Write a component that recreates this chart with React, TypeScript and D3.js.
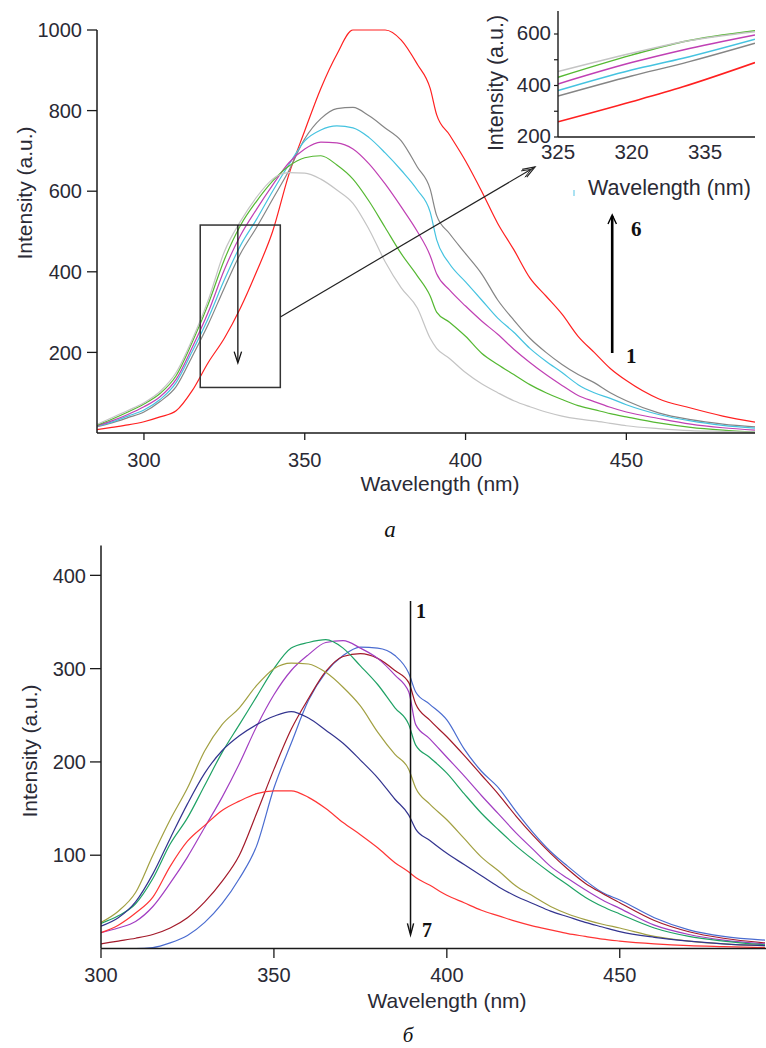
import React from "react";
import * as d3 from "d3";

// ---------- Panel a (top) ----------
const topWavelengths = [285, 290, 295, 300, 305, 310, 315, 320, 325, 330, 335, 340, 345, 350, 355, 360, 365, 370, 375, 380, 385, 389, 391, 395, 400, 405, 410, 415, 420, 425, 430, 435, 440, 445, 450, 460, 470, 480, 490];
const topRed = [8, 14, 20, 28, 40, 55, 105, 175, 235, 310, 400, 500, 640, 750, 855, 940, 1000, 1000, 1000, 975, 915, 855, 790, 740, 675, 600, 520, 455, 385, 340, 295, 240, 200, 160, 130, 85, 62, 42, 27];
const topGray = [15, 25, 38, 52, 78, 115, 190, 270, 360, 445, 510, 580, 650, 730, 780, 805, 808, 787, 757, 725, 660, 605, 540, 495, 445, 395, 330, 280, 235, 200, 170, 145, 125, 100, 80, 50, 33, 22, 15];
const topCyan = [16, 27, 42, 57, 83, 125, 202, 285, 380, 465, 530, 600, 665, 725, 752, 762, 757, 733, 695, 652, 603, 548, 480, 420, 375, 330, 285, 250, 210, 178, 150, 120, 100, 86, 70, 46, 30, 19, 12];
const topMagenta = [17, 30, 46, 65, 90, 133, 212, 300, 405, 490, 555, 615, 670, 705, 722, 720, 705, 668, 618, 561, 500, 440, 395, 355, 315, 278, 245, 208, 175, 145, 118, 93, 78, 64, 52, 36, 22, 13, 7];
const topGreen = [18, 34, 52, 72, 98, 142, 225, 320, 430, 515, 575, 625, 662, 683, 688, 665, 630, 575, 510, 445, 390, 340, 300, 275, 240, 198, 170, 145, 120, 100, 83, 68, 58, 48, 40, 25, 14, 7, 2];
const topLightGray = [20, 38, 56, 75, 103, 150, 232, 330, 450, 525, 585, 630, 646, 645, 630, 603, 570, 505, 425, 360, 310, 235, 210, 185, 150, 122, 100, 80, 65, 52, 42, 35, 30, 24, 18, 11, 6, 4, 2];
const topSeries = [
  { name: "1", values: topRed, color: "#ff2020" },
  { name: "2", values: topGray, color: "#858585" },
  { name: "3", values: topCyan, color: "#45c3e0" },
  { name: "4", values: topMagenta, color: "#c040b4" },
  { name: "5", values: topGreen, color: "#55b832" },
  { name: "6", values: topLightGray, color: "#c4c4c4" },
];
const topXTicks = [300, 350, 400, 450];
const topYTicks = [200, 400, 600, 800, 1000];

// ---------- Inset ----------
const insetWavelengths = [325, 330, 333.5, 338.4];
const insetRed = [259, 337, 395, 489];
const insetGray = [359, 437, 486, 564];
const insetCyan = [380, 460, 506, 580];
const insetMagenta = [406, 489, 538, 596];
const insetGreen = [432, 518, 570, 613];
const insetLightGray = [454, 525, 570, 609];
const insetSeries = [
  { values: insetRed, color: "#ff2020" },
  { values: insetGray, color: "#858585" },
  { values: insetCyan, color: "#45c3e0" },
  { values: insetMagenta, color: "#c040b4" },
  { values: insetGreen, color: "#55b832" },
  { values: insetLightGray, color: "#c4c4c4" },
];
const insetXTicks = [325, 330, 335];
const insetXTickLabels = ["325", "320", "335"];
const insetYTicks = [200, 300, 400, 500, 600];
const insetYLabels = [200, 400, 600];

// ---------- Panel б (bottom) ----------
const botWavelengths = [300, 305, 310, 315, 320, 325, 330, 335, 340, 345, 350, 355, 360, 365, 370, 375, 380, 385, 389, 391, 395, 400, 405, 410, 415, 420, 425, 430, 435, 440, 445, 450, 460, 470, 480, 492];
const botBlue = [0, 0, 0, 1, 6, 14, 28, 48, 75, 110, 172, 220, 266, 296, 314, 323, 322, 314, 295, 275, 262, 245, 214, 190, 172, 147, 124, 104, 88, 73, 60, 52, 33, 20, 13, 9];
const botDarkRed = [5, 8, 11, 15, 22, 33, 50, 72, 100, 145, 192, 235, 268, 297, 313, 316, 311, 298, 285, 262, 245, 227, 207, 186, 165, 142, 121, 102, 85, 70, 59, 49, 30, 18, 11, 6];
const botMagenta = [17, 22, 29, 45, 70, 98, 130, 162, 198, 238, 272, 298, 315, 328, 330, 322, 311, 293, 275, 240, 225, 205, 185, 164, 144, 124, 106, 88, 75, 63, 52, 43, 25, 15, 9, 5];
const botGreen = [27, 35, 48, 75, 112, 140, 175, 210, 240, 270, 300, 322, 328, 331, 322, 303, 283, 258, 240, 218, 205, 188, 166, 145, 127, 110, 95, 81, 68, 55, 45, 37, 22, 13, 8, 4];
const botOlive = [28, 40, 60, 100, 138, 172, 212, 240, 258, 282, 300, 306, 305, 296, 280, 260, 232, 208, 192, 172, 155, 138, 118, 98, 83, 67, 56, 45, 37, 31, 26, 22, 13, 8, 5, 3];
const botNavy = [24, 33, 50, 80, 118, 155, 188, 212, 228, 240, 249, 254, 247, 234, 220, 202, 183, 160, 143, 128, 116, 102, 90, 78, 66, 56, 48, 40, 34, 28, 23, 18, 12, 8, 5, 3];
const botRed = [17, 25, 38, 55, 88, 115, 132, 148, 158, 166, 169, 169, 162, 150, 135, 122, 108, 92, 82, 76, 68, 57, 49, 41, 35, 29, 24, 20, 16, 13, 10, 8, 5, 3, 2, 1];
const botSeries = [
  { name: "1", values: botBlue, color: "#4a6cd0" },
  { name: "2", values: botDarkRed, color: "#a31a2a" },
  { name: "3", values: botMagenta, color: "#a23ec2" },
  { name: "4", values: botGreen, color: "#1fa265" },
  { name: "5", values: botOlive, color: "#a2a042" },
  { name: "6", values: botNavy, color: "#33348f" },
  { name: "7", values: botRed, color: "#ff3535" },
];
const botXTicks = [300, 350, 400, 450];
const botYTicks = [100, 200, 300, 400];

const SANS = "'Liberation Sans', Arial, sans-serif";
const SERIF = "'Liberation Serif', 'Times New Roman', serif";
const AX = "#1a1a1a";
const TXT = "#2a2a35";

function Arrowhead({ x, y, angle, len = 11, spread = 22, stroke = "#111", sw = 1.3 }) {
  const a1 = ((angle + 180 - spread) * Math.PI) / 180;
  const a2 = ((angle + 180 + spread) * Math.PI) / 180;
  const p1 = [x + len * Math.cos(a1), y + len * Math.sin(a1)];
  const p2 = [x + len * Math.cos(a2), y + len * Math.sin(a2)];
  return (
    <path
      d={`M${p1[0]},${p1[1]} L${x},${y} L${p2[0]},${p2[1]}`}
      fill="none"
      stroke={stroke}
      strokeWidth={sw}
    />
  );
}

export default function App() {
  // top scales
  const tx = d3.scaleLinear().domain([285.4, 490]).range([97, 755]);
  const ty = d3.scaleLinear().domain([0, 1000]).range([433, 30]);
  const topLine = d3
    .line<number>()
    .x((_, i) => tx(topWavelengths[i]))
    .y((d) => ty(d))
    .curve(d3.curveMonotoneX);

  // inset scales
  const ix = d3.scaleLinear().domain([325, 338.4]).range([558, 755]);
  const iy = d3.scaleLinear().domain([200, 600]).range([137, 34]);
  const insetLine = d3
    .line<number>()
    .x((_, i) => ix(insetWavelengths[i]))
    .y((d) => iy(d))
    .curve(d3.curveMonotoneX);

  // bottom scales
  const bx = d3.scaleLinear().domain([300, 492]).range([101, 765]);
  const by = d3.scaleLinear().domain([0, 432]).range([948.5, 545.5]);
  const botLine = d3
    .line<number>()
    .x((_, i) => bx(botWavelengths[i]))
    .y((d) => by(d))
    .curve(d3.curveMonotoneX);

  // annotation geometry derived from scales
  const rectX0 = tx(317.5);
  const rectX1 = tx(342.4);
  const rectY0 = ty(516);
  const rectY1 = ty(113);
  const innerArrowX = tx(329.2);
  const diagStart = [rectX1, ty(288)];
  const diagEnd = [535, 167];
  const diagAngle = (Math.atan2(diagEnd[1] - diagStart[1], diagEnd[0] - diagStart[0]) * 180) / Math.PI;
  const bigArrowX = tx(445.6);
  const botArrowX = bx(389.5);

  return (
    <svg
      width={766}
      height={1048}
      viewBox="0 0 766 1048"
      style={{ position: "absolute", left: 0, top: 0, background: "#fff" }}
    >
      <rect x={0} y={0} width={766} height={1048} fill="#fff" />

      <defs>
        <clipPath id="topClip">
          <rect x={97} y={25} width={660} height={408} />
        </clipPath>
        <clipPath id="insetClip">
          <rect x={558} y={8} width={197} height={129} />
        </clipPath>
        <clipPath id="botClip">
          <rect x={101} y={540} width={665} height={409} />
        </clipPath>
      </defs>

      {/* ===== TOP PANEL ===== */}
      <g clipPath="url(#topClip)">
        {topSeries.map((s) => (
          <path key={s.name} d={topLine(s.values) || ""} fill="none" stroke={s.color} strokeWidth={1.2} />
        ))}
      </g>

      <line x1={97} y1={ty(1000)} x2={97} y2={433} stroke={AX} strokeWidth={1.5} />
      <line x1={97} y1={433} x2={755} y2={433} stroke={AX} strokeWidth={1.5} />
      {topYTicks.map((t) => (
        <g key={t}>
          <line x1={87} x2={97} y1={ty(t)} y2={ty(t)} stroke={AX} strokeWidth={1.3} />
          <text x={82} y={ty(t)} dy="0.36em" textAnchor="end" fontFamily={SANS} fontSize={20} fill={TXT}>
            {t}
          </text>
        </g>
      ))}
      {topXTicks.map((t) => (
        <g key={t}>
          <line x1={tx(t)} x2={tx(t)} y1={433} y2={440} stroke={AX} strokeWidth={1.3} />
          <text x={tx(t)} y={467} textAnchor="middle" fontFamily={SANS} fontSize={20} fill={TXT}>
            {t}
          </text>
        </g>
      ))}
      <text x={440} y={491} textAnchor="middle" fontFamily={SANS} fontSize={21} fill={TXT}>
        Wavelength (nm)
      </text>
      <text
        transform={`translate(32,193) rotate(-90)`}
        textAnchor="middle"
        fontFamily={SANS}
        fontSize={21}
        fill={TXT}
      >
        Intensity (a.u.)
      </text>

      {/* zoom rectangle and arrows */}
      <rect x={rectX0} y={rectY0} width={rectX1 - rectX0} height={rectY1 - rectY0} fill="none" stroke="#333" strokeWidth={1.5} />
      <line x1={innerArrowX} y1={rectY0} x2={innerArrowX} y2={362} stroke="#111" strokeWidth={1.3} />
      <Arrowhead x={innerArrowX} y={363} angle={90} len={12} spread={18} />
      <line x1={diagStart[0]} y1={diagStart[1]} x2={diagEnd[0]} y2={diagEnd[1]} stroke="#222" strokeWidth={1.2} />
      <Arrowhead x={diagEnd[0]} y={diagEnd[1]} angle={diagAngle} len={13} spread={20} stroke="#222" sw={1.2} />
      <Arrowhead x={diagEnd[0] - 4} y={diagEnd[1] + 2.4} angle={diagAngle} len={10} spread={22} stroke="#222" sw={1} />

      {/* big arrow 1 -> 6 */}
      <line x1={bigArrowX} y1={353} x2={bigArrowX} y2={216} stroke="#000" strokeWidth={2.6} />
      <Arrowhead x={bigArrowX} y={215} angle={-90} len={10} spread={25} stroke="#000" sw={1.4} />
      <text x={631} y={236} fontFamily={SERIF} fontWeight="bold" fontSize={21} fill="#111">
        6
      </text>
      <text x={626} y={363} fontFamily={SERIF} fontWeight="bold" fontSize={21} fill="#111">
        1
      </text>

      {/* ===== INSET ===== */}
      <g clipPath="url(#insetClip)">
        {insetSeries.map((s, i) => (
          <path key={i} d={insetLine(s.values) || ""} fill="none" stroke={s.color} strokeWidth={1.5} />
        ))}
      </g>
      <line x1={558} y1={11} x2={558} y2={137} stroke={AX} strokeWidth={1.4} />
      <line x1={558} y1={137} x2={755} y2={137} stroke={AX} strokeWidth={1.4} />
      {insetYTicks.map((t) => (
        <line key={t} x1={554} x2={558} y1={iy(t)} y2={iy(t)} stroke={AX} strokeWidth={1.2} />
      ))}
      {insetYLabels.map((t) => (
        <text key={t} x={551} y={iy(t) - 1} dy="0.36em" textAnchor="end" fontFamily={SANS} fontSize={20.5} fill={TXT}>
          {t}
        </text>
      ))}
      {insetXTicks.map((t, i) => (
        <text key={t} x={ix(t)} y={159} textAnchor="middle" fontFamily={SANS} fontSize={20.5} fill={TXT}>
          {insetXTickLabels[i]}
        </text>
      ))}
      <text x={588} y={195} fontFamily={SANS} fontSize={21.5} fill={TXT}>
        Wavelength (nm)
      </text>
      <line x1={574} x2={574} y1={190} y2={196} stroke="#8fd8ee" strokeWidth={1.5} />
      <text
        transform={`translate(503,83) rotate(-90)`}
        textAnchor="middle"
        fontFamily={SANS}
        fontSize={21.5}
        fill={TXT}
      >
        Intensity (a.u.)
      </text>

      {/* caption a */}
      <text x={390} y={537} textAnchor="middle" fontFamily={SERIF} fontStyle="italic" fontSize={23} fill="#111">
        а
      </text>

      {/* ===== BOTTOM PANEL ===== */}
      <g clipPath="url(#botClip)">
        {botSeries.map((s) => (
          <path key={s.name} d={botLine(s.values) || ""} fill="none" stroke={s.color} strokeWidth={1.2} />
        ))}
      </g>
      <line x1={101} y1={by(432)} x2={101} y2={948.5} stroke={AX} strokeWidth={1.5} />
      <line x1={101} y1={948.5} x2={766} y2={948.5} stroke={AX} strokeWidth={1.5} />
      {botYTicks.map((t) => (
        <g key={t}>
          <line x1={90} x2={101} y1={by(t)} y2={by(t)} stroke={AX} strokeWidth={1.3} />
          <text x={86} y={by(t)} dy="0.36em" textAnchor="end" fontFamily={SANS} fontSize={20} fill={TXT}>
            {t}
          </text>
        </g>
      ))}
      {botXTicks.map((t) => (
        <g key={t}>
          <line x1={bx(t)} x2={bx(t)} y1={948.5} y2={958} stroke={AX} strokeWidth={1.3} />
          <text x={bx(t)} y={982} textAnchor="middle" fontFamily={SANS} fontSize={20} fill={TXT}>
            {t}
          </text>
        </g>
      ))}
      <text x={447} y={1008} textAnchor="middle" fontFamily={SANS} fontSize={21} fill={TXT}>
        Wavelength (nm)
      </text>
      <text
        transform={`translate(37,751) rotate(-90)`}
        textAnchor="middle"
        fontFamily={SANS}
        fontSize={21}
        fill={TXT}
      >
        Intensity (a.u.)
      </text>

      {/* arrow 1 -> 7 */}
      <line x1={botArrowX} y1={601} x2={botArrowX} y2={933} stroke="#111" strokeWidth={1.5} />
      <Arrowhead x={botArrowX} y={935} angle={90} len={12} spread={15} stroke="#111" sw={1.4} />
      <text x={416} y={618} fontFamily={SERIF} fontWeight="bold" fontSize={20} fill="#111">
        1
      </text>
      <text x={422} y={937} fontFamily={SERIF} fontWeight="bold" fontSize={20} fill="#111">
        7
      </text>

      {/* caption б */}
      <text x={408} y={1042} textAnchor="middle" fontFamily={SERIF} fontStyle="italic" fontSize={21} fill="#111">
        б
      </text>
    </svg>
  );
}
